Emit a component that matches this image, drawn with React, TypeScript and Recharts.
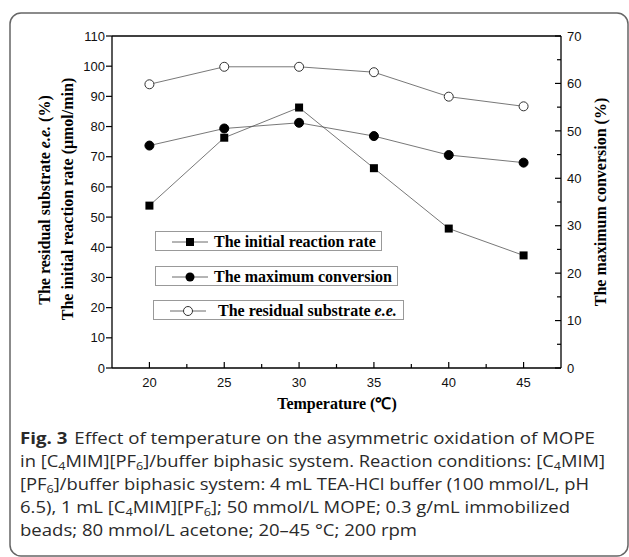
import React from 'react';
import { LineChart, Line, XAxis, YAxis, Legend, ReferenceLine } from 'recharts';

const temperatures = [20, 25, 30, 35, 40, 45];
const initialRate = [53.8, 76.3, 86.3, 66.2, 46.2, 37.3];
const maxConversion = [46.9, 50.5, 51.7, 48.9, 44.9, 43.3];
const residualEe = [94.0, 99.8, 99.8, 98.0, 89.9, 86.7];

const xTicks = [20, 22.5, 25, 27.5, 30, 32.5, 35, 37.5, 40, 42.5, 45];
const leftTicks = [0, 10, 20, 30, 40, 50, 60, 70, 80, 90, 100, 110];
const rightTicks = [0, 5, 10, 15, 20, 25, 30, 35, 40, 45, 50, 55, 60, 65, 70];

const seriesNames = ['The initial reaction rate', 'The maximum conversion', 'The residual substrate e.e.'];

const data = temperatures.map((t, i) => ({
  temp: t,
  rate: initialRate[i],
  conversion: maxConversion[i],
  ee: residualEe[i],
}));

const tickFont = { fontFamily: '"Liberation Sans", Arial, sans-serif', fontSize: 13, fill: '#111' };
const serif = '"Liberation Serif", "Times New Roman", serif';

const XTick = (props: any) => {
  const { x, y, payload } = props;
  const major = payload.value % 5 === 0;
  return (
    <g>
      <line x1={x} x2={x} y1={y} y2={y - (major ? 6 : 4)} stroke="#000" strokeWidth={1.2} />
      {major && (
        <text x={x} y={y + 19} textAnchor="middle" {...tickFont}>
          {payload.value}
        </text>
      )}
    </g>
  );
};

const LeftTick = (props: any) => {
  const { x, y, payload } = props;
  return (
    <g>
      <line x1={x} x2={x - 6} y1={y} y2={y} stroke="#000" strokeWidth={1.2} />
      <text x={x - 7} y={y} dy="0.36em" textAnchor="end" {...tickFont}>
        {payload.value}
      </text>
    </g>
  );
};

const RightTick = (props: any) => {
  const { x, y, payload } = props;
  const major = payload.value % 10 === 0;
  return (
    <g>
      <line x1={x} x2={x - (major ? 6 : 4)} y1={y} y2={y} stroke="#000" strokeWidth={1.2} />
      {major && (
        <text x={x + 6} y={y} dy="0.36em" textAnchor="start" {...tickFont}>
          {payload.value}
        </text>
      )}
    </g>
  );
};

const SquareDot = (props: any) => {
  const { cx, cy, index } = props;
  if (cx == null || cy == null) return <g key={`sq-${index}`} />;
  return <rect key={`sq-${index}`} x={cx - 4} y={cy - 4} width={8} height={8} fill="#000" />;
};

const legendBoxes = [
  { left: 155, top: 231, width: 227, textLeft: 58 },
  { left: 155, top: 266, width: 243, textLeft: 58 },
  { left: 153, top: 300, width: 251, textLeft: 64 },
];

const LegendMarker = ({ kind }: { kind: number }) => (
  <svg width={40} height={20} style={{ position: 'absolute', left: 14, top: 0 }}>
    <line x1={2} x2={38} y1={10} y2={10} stroke="#444" strokeWidth={0.8} />
    {kind === 0 && <rect x={16} y={6} width={8} height={8} fill="#000" />}
    {kind === 1 && <circle cx={20} cy={10} r={4.5} fill="#000" />}
    {kind === 2 && <circle cx={20} cy={10} r={4.5} fill="#fff" stroke="#333" strokeWidth={1} />}
  </svg>
);

const renderLegend = () => (
  <div style={{ position: 'relative', width: 629, height: 400 }}>
    {legendBoxes.map((b, i) => (
      <div
        key={i}
        style={{
          position: 'absolute',
          left: b.left,
          top: b.top,
          width: b.width,
          height: 20,
          border: '1px solid #999',
          background: '#fff',
          boxSizing: 'border-box',
        }}
      >
        <LegendMarker kind={i} />
        <span
          style={{
            position: 'absolute',
            left: b.textLeft,
            top: 0,
            lineHeight: '19px',
            fontFamily: serif,
            fontWeight: 'bold',
            fontSize: 16,
            whiteSpace: 'nowrap',
            color: '#000',
          }}
        >
          {i === 2 ? (
            <>
              The residual substrate <i>e.e.</i>
            </>
          ) : (
            seriesNames[i]
          )}
        </span>
      </div>
    ))}
  </div>
);

const sub = (s: string, rest: string) => (
  <>
    <tspan fontSize={11} dy={3}>{s}</tspan>
    <tspan dy={-3}>{rest}</tspan>
  </>
);

export default function App() {
  const captionFont = { fontFamily: '"Open Sans", "Noto Sans", sans-serif', fontSize: 16, fill: '#2a2a2a' };
  return (
    <div style={{ position: 'absolute', left: 0, top: 0, width: 629, height: 557, background: '#fff' }}>
      <div style={{ position: 'absolute', left: 0, top: 0 }}>
        <LineChart width={629} height={420} data={data} margin={{ top: 36, right: 0, left: 0, bottom: 0 }}>
          <XAxis
            dataKey="temp"
            type="number"
            domain={[17.5, 47.5]}
            ticks={xTicks}
            interval={0}
            height={52}
            tickSize={0}
            tickMargin={0}
            tickLine={false}
            axisLine={{ stroke: '#000', strokeWidth: 1.3 }}
            tick={<XTick />}
          />
          <YAxis
            yAxisId="left"
            domain={[0, 110]}
            ticks={leftTicks}
            interval={0}
            width={112}
            tickSize={0}
            tickMargin={0}
            tickLine={false}
            axisLine={{ stroke: '#000', strokeWidth: 1.3 }}
            tick={<LeftTick />}
          />
          <YAxis
            yAxisId="right"
            orientation="right"
            domain={[0, 70]}
            ticks={rightTicks}
            interval={0}
            width={68}
            tickSize={0}
            tickMargin={0}
            tickLine={false}
            axisLine={{ stroke: '#000', strokeWidth: 1.3 }}
            tick={<RightTick />}
          />
          <ReferenceLine yAxisId="left" y={110} stroke="#000" strokeWidth={1.3} />
          <Legend
            layout="vertical"
            verticalAlign="middle"
            align="center"
            content={renderLegend}
            wrapperStyle={{ position: 'absolute', left: 0, top: 0, width: 629, height: 400 }}
          />
          <Line
            yAxisId="left"
            dataKey="ee"
            name={seriesNames[2]}
            stroke="#555"
            strokeWidth={0.8}
            dot={{ r: 4.5, fill: '#fff', stroke: '#333', strokeWidth: 1 }}
            isAnimationActive={false}
          />
          <Line
            yAxisId="right"
            dataKey="conversion"
            name={seriesNames[1]}
            stroke="#555"
            strokeWidth={0.8}
            dot={{ r: 4.5, fill: '#000', stroke: '#000', strokeWidth: 1 }}
            isAnimationActive={false}
          />
          <Line
            yAxisId="left"
            dataKey="rate"
            name={seriesNames[0]}
            stroke="#555"
            strokeWidth={0.8}
            dot={SquareDot}
            isAnimationActive={false}
          />
        </LineChart>
      </div>
      <svg
        width={629}
        height={557}
        style={{ position: 'absolute', left: 0, top: 0, pointerEvents: 'none' }}
      >
        <rect x={10} y={13} width={618} height={543} rx={11} fill="none" stroke="#666" strokeWidth={1.5} />
        <g fontFamily={serif} fontWeight="bold" fontSize={16} fill="#000">
          <text x={44} y={200} textAnchor="middle" dominantBaseline="central" transform="rotate(-90 44 200)">
            The residual substrate <tspan fontStyle="italic">e.e.</tspan> (%)
          </text>
          <text x={67} y={199} textAnchor="middle" dominantBaseline="central" transform="rotate(-90 67 199)">
            The initial reaction rate (μmol/min)
          </text>
          <text x={600} y={202} textAnchor="middle" dominantBaseline="central" transform="rotate(-90 600 202)">
            The maximum conversion (%)
          </text>
          <text x={337} y={409} textAnchor="middle">
            Temperature (℃)
          </text>
        </g>
        <g {...captionFont}>
          <text x={20} y={444} textLength={575} lengthAdjust="spacingAndGlyphs">
            <tspan fontWeight="bold">Fig. 3</tspan>
            <tspan dx={6}>Effect of temperature on the asymmetric oxidation of MOPE</tspan>
          </text>
          <text x={20} y={467} textLength={585} lengthAdjust="spacingAndGlyphs">
            in [C{sub('4', 'MIM][PF')}{sub('6', ']/buffer biphasic system. Reaction conditions: [C')}{sub('4', 'MIM]')}
          </text>
          <text x={20} y={490} textLength={569} lengthAdjust="spacingAndGlyphs">
            [PF{sub('6', ']/buffer biphasic system: 4 mL TEA-HCl buffer (100 mmol/L, pH')}
          </text>
          <text x={20} y={513} textLength={550} lengthAdjust="spacingAndGlyphs">
            6.5), 1 mL [C{sub('4', 'MIM][PF')}{sub('6', ']; 50 mmol/L MOPE; 0.3 g/mL immobilized')}
          </text>
          <text x={20} y={536} textLength={397} lengthAdjust="spacingAndGlyphs">
            beads; 80 mmol/L acetone; 20–45 °C; 200 rpm
          </text>
        </g>
      </svg>
    </div>
  );
}
